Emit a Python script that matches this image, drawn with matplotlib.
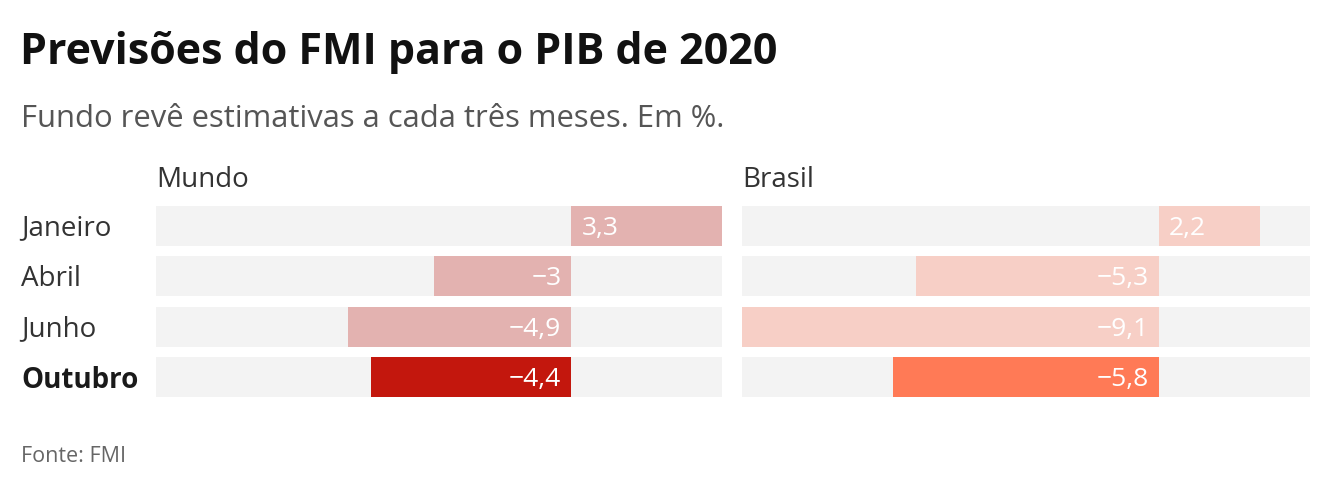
import matplotlib.pyplot as plt

plt.rcParams['font.family'] = ['Open Sans', 'DejaVu Sans']

# === dados ===
meses = ["Janeiro", "Abril", "Junho", "Outubro"]
mundo = [3.3, -3, -4.9, -4.4]
brasil = [2.2, -5.3, -9.1, -5.8]
paineis = ["Mundo", "Brasil"]

cores_mundo = ["#e3b2b0", "#e3b2b0", "#e3b2b0", "#c3170d"]
cores_brasil = ["#f7cfc6", "#f7cfc6", "#f7cfc6", "#ff7a56"]

xmin, xmax = -9.1, 3.3
W, H = 1340, 492


def fmt(v):
    s = f"{abs(v):g}".replace(".", ",")
    return ("\u2212" + s) if v < 0 else s


fig = plt.figure(figsize=(W / 100, H / 100), dpi=100)

fig.text(20 / W, 1 - 52 / H, "Previsões do FMI para o PIB de 2020",
         fontsize=31, fontweight="bold", color="#111111", va="center", ha="left")
fig.text(21 / W, 1 - 119 / H, "Fundo revê estimativas a cada três meses. Em %.",
         fontsize=22.3, color="#555555", va="center", ha="left")
fig.text(21 / W, 1 - 457 / H, "Fonte: FMI",
         fontsize=15.5, color="#666666", va="center", ha="left")

top, bottom = 206, 397
lefts = [(156, 722), (742, 1310)]

for k, (nome, vals, cores) in enumerate(zip(paineis, [mundo, brasil], [cores_mundo, cores_brasil])):
    x0, x1 = lefts[k]
    ax = fig.add_axes([x0 / W, 1 - bottom / H, (x1 - x0) / W, (bottom - top) / H])
    ys = list(range(len(meses)))
    ax.barh(ys, [xmax - xmin] * len(ys), left=xmin, height=0.79, color="#f3f3f3")
    ax.barh(ys, vals, height=0.79, color=cores)
    for y, v in zip(ys, vals):
        if v >= 0:
            ax.text(0.22, y + 0.05, fmt(v), ha="left", va="center", color="white", fontsize=19)
        else:
            ax.text(-0.22, y + 0.05, fmt(v), ha="right", va="center", color="white", fontsize=19)
    ax.set_xlim(xmin, xmax)
    ax.set_ylim(3.395, -0.395)
    ax.axis("off")
    fig.text(x0 / W, 1 - 180 / H, nome, fontsize=20, color="#333333", va="center", ha="left")

# rótulos das linhas
for i, m in enumerate(meses):
    yc = 228 + i * 50.67
    bold = m == "Outubro"
    fig.text(21 / W, 1 - yc / H, m, fontsize=20,
             fontweight="bold" if bold else "normal",
             color="#1a1a1a" if bold else "#333333", va="center", ha="left")

fig.savefig("out.png", dpi=100, facecolor="white")
